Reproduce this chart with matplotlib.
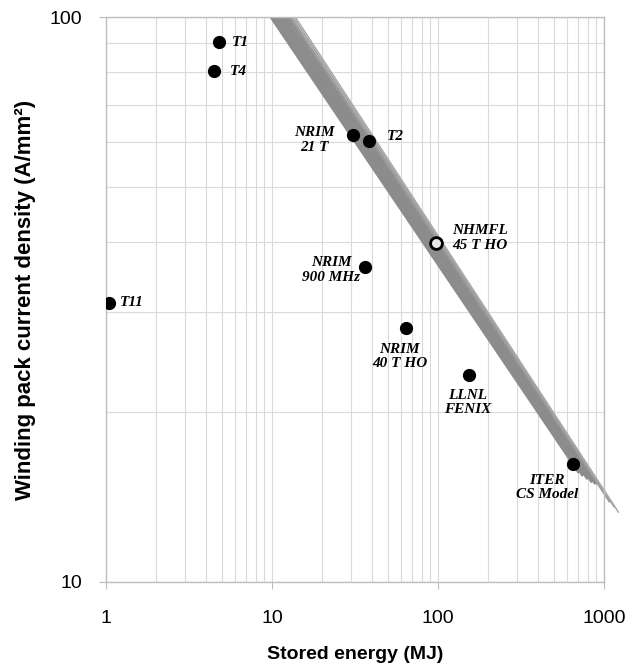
import numpy as np
import matplotlib
matplotlib.use('Agg')
from matplotlib import pyplot as plt
from matplotlib.patches import Rectangle
from matplotlib.ticker import FixedLocator, FixedFormatter, LogLocator, NullFormatter

# magnets: stored energy (MJ) vs winding pack current density (A/mm2)
names = ['T1', 'T4', 'T11', 'NRIM\n21 T', 'T2', 'NHMFL\n45 T HO', 'NRIM\n900 MHz',
         'NRIM\n40 T HO', 'LLNL\nFENIX', 'ITER\nCS Model']
energy = [4.8, 4.5, 1.04, 30.8, 38.4, 97, 36.3, 64, 154, 650]
current = [90.3, 80.3, 31.2, 61.8, 60.3, 39.8, 36.1, 28.2, 23.2, 16.2]

# scaling band: each line from (e_top, 100) to (e_end, j_end)
band_e_top = [9.9, 10.3, 10.8, 11.3, 11.8, 12.4, 12.9, 13.4, 13.8]
band_e_end = [700, 740, 790, 840, 880, 900, 1080, 1150, 1220]
band_j_end = [15.7, 15.5, 15.3, 15.1, 15.0, 15.0, 13.9, 13.6, 13.3]

# label layout (offset in pixels, alignment)
label_offsets = [(13, 0, 'left'), (15, -1, 'left'), (11, 0, 'left'), (-39, -5, 'center'),
                 (18, 5, 'left'), (44, 5, 'center'), (-34, -3, 'center'),
                 (-6, -29, 'center'), (-1, -27, 'center'), (-26, -24, 'center')]
band_widths = [2.4, 2.4, 2.4, 2.4, 2.4, 2.2, 1.8, 1.3, 1.1]
band_colors = ['#8c8c8c'] * 6 + ['#999999', '#a3a3a3', '#a8a8a8']

fig = plt.figure(figsize=(6.43, 6.71), dpi=100)
ax = fig.add_axes([106/643, 1-582/671, (604-106)/643, (582-17)/671])
ax.set_xscale('log')
ax.set_yscale('log')
ax.set_xlim(1, 1000)
ax.set_ylim(10, 100)

clip = Rectangle((0, 0), 1.1, 1.0, transform=ax.transAxes, facecolor='none', edgecolor='none')
ax.add_patch(clip)
for e0, e1, j1, lw, c in zip(band_e_top, band_e_end, band_j_end, band_widths, band_colors):
    ln, = ax.plot([e0, e1], [100, j1], color=c, lw=lw, solid_capstyle='projecting', zorder=2)
    ln.set_clip_path(clip)

for i, (e, j) in enumerate(zip(energy, current)):
    if names[i].startswith('NHMFL'):
        ax.plot(e, j, 'o', ms=8.5, mfc='#e6e6e6', mec='black', mew=2.0, zorder=4)
    else:
        ax.plot(e, j, 'o', ms=8.5, color='black', zorder=4)
    dx, dy, ha = label_offsets[i]
    ax.annotate(names[i], (e, j), xytext=(dx, dy), textcoords='offset pixels',
                ha=ha, va='center', fontsize=11, family='Liberation Serif',
                fontweight='bold', fontstyle='italic', linespacing=1.15, zorder=5)

ax.xaxis.set_major_locator(FixedLocator([1, 10, 100, 1000]))
ax.xaxis.set_major_formatter(FixedFormatter(['1', '10', '100', '1000']))
ax.xaxis.set_minor_locator(LogLocator(base=10, subs=np.arange(2, 10)))
ax.xaxis.set_minor_formatter(NullFormatter())
ax.yaxis.set_major_locator(FixedLocator([10, 100]))
ax.yaxis.set_major_formatter(FixedFormatter(['10', '100']))
ax.yaxis.set_minor_locator(LogLocator(base=10, subs=np.arange(2, 10)))
ax.yaxis.set_minor_formatter(NullFormatter())

ax.grid(True, which='both', color='#dadada', lw=0.8, zorder=0)
ax.set_axisbelow(True)
for s in ax.spines.values():
    s.set_color('#bdbdbd')
    s.set_linewidth(1.0)
ax.tick_params(which='major', direction='out', length=5, color='#bdbdbd', labelsize=14)
ax.tick_params(which='minor', length=0)
ax.tick_params(axis='x', pad=15)
ax.tick_params(axis='y', pad=12)
for t in ax.get_xticklabels() + ax.get_yticklabels():
    t.set_family('Liberation Sans')

ax.set_xlabel('Stored energy (MJ)', fontsize=14, fontweight='bold', family='Liberation Sans', labelpad=14)
ax.set_ylabel('Winding pack current density (A/mm²)', fontsize=16, fontweight='bold',
              family='Liberation Sans', labelpad=10)

fig.savefig('out.png', dpi=100)
